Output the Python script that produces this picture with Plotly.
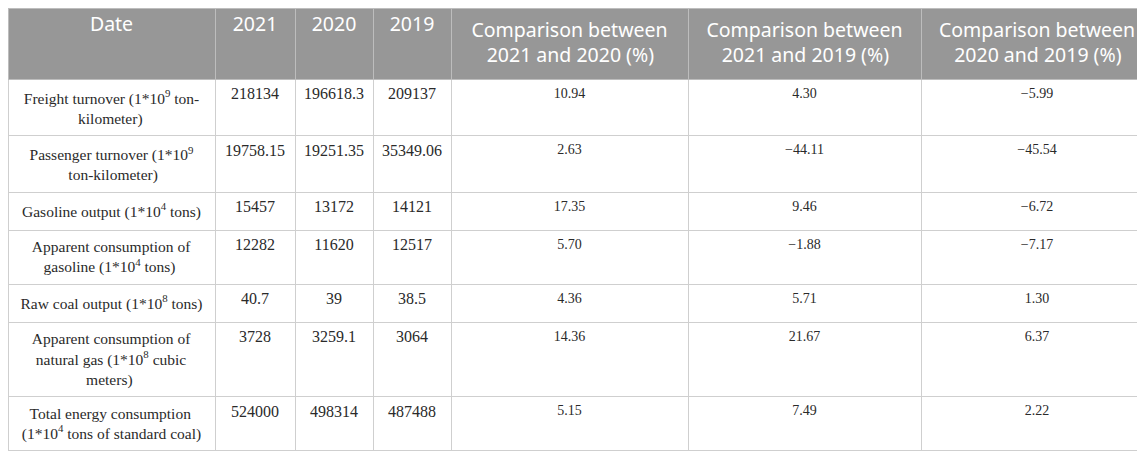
import plotly.graph_objects as go

# table content
header_labels = ["Date", "2021", "2020", "2019",
                 "Comparison between<br>2021 and 2020 (%)",
                 "Comparison between<br>2021 and 2019 (%)",
                 "Comparison between<br>2020 and 2019 (%)"]

row_labels = [
    "Freight turnover (1*10<sup>9</sup> ton-<br>kilometer)",
    "Passenger turnover (1*10<sup>9</sup><br>ton-kilometer)",
    "Gasoline output (1*10<sup>4</sup> tons)",
    "Apparent consumption of<br>gasoline (1*10<sup>4</sup> tons)",
    "Raw coal output (1*10<sup>8</sup> tons)",
    "Apparent consumption of<br>natural gas (1*10<sup>8</sup> cubic<br>meters)",
    "Total energy consumption<br>(1*10<sup>4</sup> tons of standard coal)",
]

values_2021 = [218134, 19758.15, 15457, 12282, 40.7, 3728, 524000]
values_2020 = [196618.3, 19251.35, 13172, 11620, 39, 3259.1, 498314]
values_2019 = [209137, 35349.06, 14121, 12517, 38.5, 3064, 487488]

pct_21_20 = [10.94, 2.63, 17.35, 5.70, 4.36, 14.36, 5.15]
pct_21_19 = [4.30, -44.11, 9.46, -1.88, 5.71, 21.67, 7.49]
pct_20_19 = [-5.99, -45.54, -6.72, -7.17, 1.30, 6.37, 2.22]

# rough glyph advances (1/1000 em) used to centre wrapped lines,
# plotly tables left-align the lines of a <br> block
SERIF_W = {" ": 250, "(": 333, ")": 333, "*": 500, "-": 333, ".": 250,
           "a": 444, "b": 500, "c": 444, "d": 500, "e": 444, "f": 333,
           "g": 500, "h": 500, "i": 278, "k": 500, "l": 278, "m": 778,
           "n": 500, "o": 500, "p": 500, "r": 333, "s": 389, "t": 278,
           "u": 500, "v": 500, "w": 722, "y": 500,
           "A": 722, "F": 556, "G": 722, "P": 556, "R": 667, "T": 611}
SANS_W = {" ": 260, "(": 303, ")": 303, "%": 846, "a": 561, "b": 613,
          "d": 613, "e": 561, "i": 258, "m": 924, "n": 613, "o": 602,
          "p": 613, "r": 408, "s": 479, "t": 353, "w": 815, "C": 632}


def line_width(line, table):
    w = 0
    sup = False
    i = 0
    while i < len(line):
        if line.startswith("<sup>", i):
            sup = True
            i += 5
            continue
        if line.startswith("</sup>", i):
            sup = False
            i += 6
            continue
        ch = line[i]
        cw = 572 if (ch.isdigit() and table is SANS_W) else table.get(ch, 500)
        w += cw * (0.7 if sup else 1.0)
        i += 1
    return w


def centre_lines(text, table, space):
    lines = text.split("<br>")
    if len(lines) == 1:
        return text
    widths = [line_width(l, table) for l in lines]
    widest = max(widths)
    out = []
    for l, w in zip(lines, widths):
        pad = int(round((widest - w) / 2 / space))
        out.append("\u00a0" * pad + l)
    return "<br>".join(out)


def fmt_pct(v):
    # the source uses a real minus sign
    return f"{v:.2f}".replace("-", "\u2212")


header_text = [centre_lines(h, SANS_W, 260) for h in header_labels]

cell_values = [
    [centre_lines(r, SERIF_W, 250) for r in row_labels],
    [str(v) for v in values_2021],
    [str(v) for v in values_2020],
    [str(v) for v in values_2019],
    [fmt_pct(v) for v in pct_21_20],
    [fmt_pct(v) for v in pct_21_19],
    [fmt_pct(v) for v in pct_20_19],
]

col_widths = [207, 80, 78, 78, 237, 233, 232]

fig = go.Figure(go.Table(
    domain=dict(x=[0, 1], y=[0, 1]),
    columnwidth=col_widths,
    header=dict(
        values=header_text,
        fill_color="#979797",
        line=dict(color="#bdbdbd", width=1),
        font=dict(family="Noto Sans", size=19.5, color="white"),
        align="center",
        height=71,
    ),
    cells=dict(
        values=cell_values,
        fill_color="white",
        line=dict(color="#cfcfcf", width=1),
        font=dict(family="Liberation Serif",
                  size=[15.5, 16, 16, 16, 14, 14, 14],
                  color="#2a2a2a"),
        align="center",
        height=38,
    ),
))

fig.update_layout(
    width=1145,
    height=465,
    margin=dict(l=0, r=0, t=0, b=0),
    paper_bgcolor="white",
)

fig.write_html("out.html")
